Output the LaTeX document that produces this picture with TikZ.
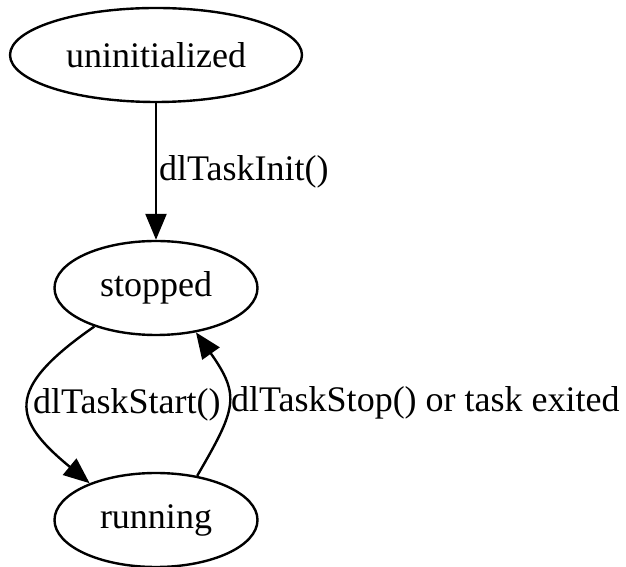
\documentclass[tikz,border=0pt]{standalone}
\usepackage{fontspec}
\setmainfont{Liberation Serif}
\usetikzlibrary{arrows.meta,shapes.geometric}

\begin{document}
\begin{tikzpicture}[
    x=1pt,y=1pt,
    state/.style={draw,ellipse,line width=2.4pt,inner sep=0pt,minimum height=94pt,font=\fontsize{36}{43}\selectfont},
    trans/.style={-{Triangle[length=26pt,width=21pt]},line width=2.4pt},
    edgelbl/.style={right,inner sep=2pt,font=\fontsize{36}{43}\selectfont}
]
\useasboundingbox (0,0) rectangle (626,567);
\node[state,minimum width=292pt] (uninit) at (156,512) {uninitialized};
\node[state,minimum width=203pt] (stopped) at (156,279) {stopped};
\node[state,minimum width=203pt] (running) at (156,47) {running};

\draw[trans] (uninit) -- node[edgelbl] {dlTaskInit()} (stopped);
\draw[trans] (stopped.212) .. controls (3,177) and (13,147) .. node[edgelbl,inner sep=3pt] {dlTaskStart()} (running.151);
\draw[trans] (running.47) .. controls (236,158) and (241,171) .. node[edgelbl] {dlTaskStop() or task exited} (stopped.312);
\end{tikzpicture}
\end{document}
